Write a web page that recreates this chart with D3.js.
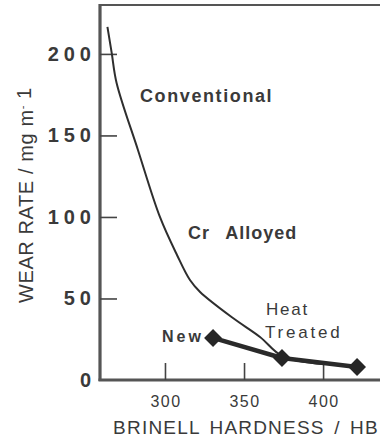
<!DOCTYPE html>
<html>
<head>
<meta charset="utf-8">
<script src="https://cdn.jsdelivr.net/npm/d3@7"></script>
<style>
  body { margin: 0; background: #fff; }
  svg { display: block; font-family: "Liberation Sans", Arial, Helvetica, sans-serif; }
</style>
</head>
<body>
<div id="chart"></div>
<script>
// conventional steel curve
const convHardness = [263.6, 266.3, 269.4, 282.9, 296.8, 307.6, 315.8, 322.2, 343, 360.1, 374.1, 400];
const convWear     = [216.6, 200.6, 182.2, 141.1, 100, 76.7, 61.3, 54, 38, 26.4, 14.7, 9.8];

// new / heat treated steel points
const newHardness = [330.4, 374, 421.5];
const newWear     = [25.8, 13.5, 8];

const xTicks = [300, 350, 400];
const yTicks = [0, 50, 100, 150, 200];

const labels = [
  { text: "Conventional", x: 140, y: 102, size: 18, weight: "bold", ls: 1.6 },
  { text: "Cr Alloyed", x: 188, y: 239, size: 18, weight: "bold", ls: 1, ws: 10 },
  { text: "New", x: 162, y: 342, size: 16, weight: "bold", ls: 3 },
  { text: "Heat", x: 266, y: 315, size: 17, weight: "normal", ls: 1.8 },
  { text: "Treated", x: 265, y: 338, size: 17, weight: "normal", ls: 2.8 }
];

const width = 380, height = 447;
const ink = "#3a3a3a";

const svg = d3.select("#chart").append("svg")
  .attr("width", width)
  .attr("height", height);

const x = d3.scaleLinear().domain([258.9, 436]).range([100, 380]);
const y = d3.scaleLinear().domain([0, 230]).range([380, 5]);

// frame: left, top, bottom
svg.append("line").attr("x1", 100).attr("x2", 100).attr("y1", 4).attr("y2", 381)
  .attr("stroke", "#555").attr("stroke-width", 3.2);
svg.append("line").attr("x1", 100).attr("x2", 380).attr("y1", 5).attr("y2", 5)
  .attr("stroke", "#555").attr("stroke-width", 2.2);
svg.append("line").attr("x1", 98.5).attr("x2", 380).attr("y1", 380).attr("y2", 380)
  .attr("stroke", "#555").attr("stroke-width", 3);

// y axis
const yAxis = svg.append("g")
  .attr("transform", "translate(100,0)")
  .call(d3.axisLeft(y).tickValues(yTicks).tickSize(-17).tickPadding(4));
yAxis.select(".domain").remove();
yAxis.selectAll("line").attr("stroke", "#444").attr("stroke-width", 1.6);
yAxis.selectAll(".tick text")
  .attr("fill", ink)
  .style("font-family", "'Liberation Sans', Arial, sans-serif")
  .style("font-size", "20px")
  .style("font-weight", "bold")
  .style("letter-spacing", "5px");
yAxis.selectAll(".tick").filter(d => d === 0).select("line").remove();

// x axis
const xAxis = svg.append("g")
  .attr("transform", "translate(0,380)")
  .call(d3.axisBottom(x).tickValues(xTicks).tickSize(-17).tickPadding(16));
xAxis.select(".domain").remove();
xAxis.selectAll("line").attr("stroke", "#444").attr("stroke-width", 1.6);
xAxis.selectAll(".tick text")
  .attr("fill", ink)
  .attr("dx", "0.5px")
  .style("font-family", "'Liberation Sans', Arial, sans-serif")
  .style("font-size", "16px")
  .style("letter-spacing", "1.5px");

// axis titles
svg.append("text")
  .attr("x", 246).attr("y", 434)
  .attr("text-anchor", "middle")
  .attr("fill", ink)
  .style("font-size", "19px")
  .style("letter-spacing", "1.2px")
  .style("word-spacing", "3px")
  .text("BRINELL HARDNESS / HB");

const yt = svg.append("text")
  .attr("transform", "translate(33,303) rotate(-90)")
  .attr("fill", ink)
  .style("font-size", "20px")
  .style("letter-spacing", "0.6px")
  .text("WEAR RATE / mg m");
yt.append("tspan").attr("dy", -7).style("font-size", "11px").text("-");
yt.append("tspan").attr("dy", 5).text(" 1");

// conventional curve
const conv = convHardness.map((h, i) => [h, convWear[i]]);
svg.append("path")
  .datum(conv)
  .attr("fill", "none")
  .attr("stroke", "#2e2e2e")
  .attr("stroke-width", 2)
  .attr("d", d3.line().x(d => x(d[0])).y(d => y(d[1])).curve(d3.curveCatmullRom.alpha(0.5)));

// new steel line + diamonds
const pts = newHardness.map((h, i) => [h, newWear[i]]);
svg.append("path")
  .datum(pts)
  .attr("fill", "none")
  .attr("stroke", "#2a2a2a")
  .attr("stroke-width", 4.5)
  .attr("stroke-linejoin", "round")
  .attr("d", d3.line().x(d => x(d[0])).y(d => y(d[1])));

svg.selectAll(".mk")
  .data(pts)
  .join("path")
  .attr("class", "mk")
  .attr("transform", d => "translate(" + x(d[0]) + "," + y(d[1]) + ") rotate(45)")
  .attr("d", d3.symbol().type(d3.symbolSquare).size(160))
  .attr("fill", "#262626");

// in-plot labels
svg.selectAll(".lbl")
  .data(labels)
  .join("text")
  .attr("class", "lbl")
  .attr("x", d => d.x)
  .attr("y", d => d.y)
  .attr("fill", ink)
  .style("font-size", d => d.size + "px")
  .style("font-weight", d => d.weight)
  .style("letter-spacing", d => d.ls + "px")
  .style("word-spacing", d => (d.ws || 0) + "px")
  .text(d => d.text);
</script>
</body>
</html>
